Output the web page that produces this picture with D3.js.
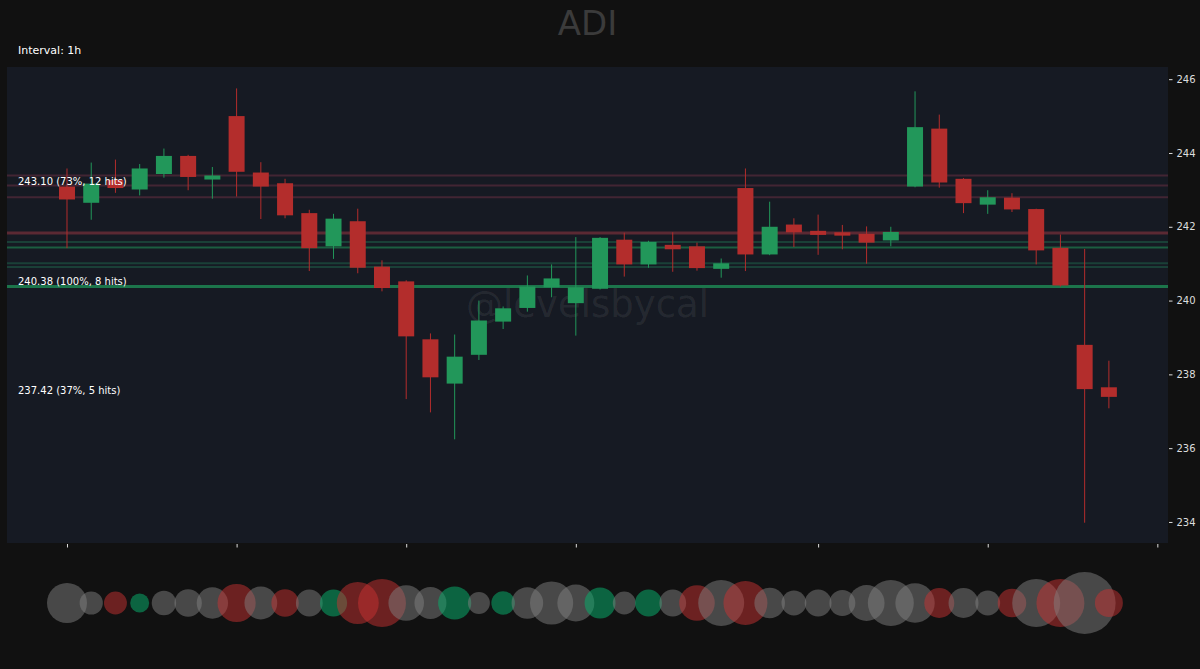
<!DOCTYPE html>
<html>
<head>
<meta charset="utf-8">
<script src="https://cdn.jsdelivr.net/npm/d3@7/dist/d3.min.js"></script>
<style>
  html, body { margin: 0; padding: 0; background: #111111; }
  svg { display: block; }
  text { font-family: "DejaVu Sans", sans-serif; }
</style>
</head>
<body>
<svg id="chart" width="1200" height="669"></svg>
<script>
// ---- data ----
const symbol = "ADI";
const intervalLabel = "Interval: 1h";
const watermark = "@levelsbycal";

const opens  = [243.09,242.65,243.27,243.01,243.43,243.92,243.28,245.00,243.47,243.18,
                242.37,241.47,242.15,240.92,240.52,238.95,237.75,238.53,239.43,239.80,
                240.36,239.93,240.32,241.65,240.98,241.51,241.47,240.86,243.05,241.25,
                242.06,241.89,241.85,241.81,241.63,243.09,244.66,243.30,242.60,242.79,
                242.48,241.43,238.80,237.65];
const highs  = [243.58,243.74,243.82,243.70,244.12,243.95,243.62,245.75,243.75,243.30,
                242.46,242.35,242.49,241.09,240.55,239.11,239.08,240.00,239.84,240.68,
                240.98,241.72,241.72,241.84,241.62,241.85,241.57,241.14,243.58,242.68,
                242.23,242.33,242.05,242.01,242.00,245.67,245.04,243.32,242.99,242.91,
                242.49,241.79,241.40,238.37];
const lows   = [241.42,242.19,242.92,242.85,243.33,242.99,242.76,242.82,242.21,242.23,
                240.80,241.13,240.74,240.25,237.33,236.97,236.24,238.39,239.23,239.70,
                240.09,239.05,240.30,240.65,240.89,240.78,240.81,240.62,240.80,241.23,
                241.45,241.24,241.39,241.00,241.47,243.07,243.06,242.37,242.35,242.40,
                240.98,240.38,233.98,237.08];
const closes = [242.74,243.17,243.05,243.58,243.92,243.35,243.39,243.49,243.09,242.31,
                241.42,242.22,240.89,240.34,239.03,237.92,238.48,239.46,239.79,240.38,
                240.60,240.36,241.70,240.98,241.59,241.39,240.88,241.01,241.25,242.00,
                241.85,241.78,241.76,241.57,241.86,244.70,243.20,242.64,242.80,242.47,
                241.36,240.41,237.60,237.39];

// volume bubbles (arbitrary units) and their colour class
const volumes = [400,135,132,90,149,188,246,365,269,188,
                 180,185,441,576,317,256,276,121,139,250,
                 467,342,240,132,180,180,317,529,484,234,
                 154,180,169,324,529,388,225,225,154,204,
                 576,576,961,196];
const volumeKinds = ["n","n","r","g","n","n","n","r","n","r",
                     "n","g","r","r","n","n","g","n","g","n",
                     "n","n","g","n","g","n","r","n","r","n",
                     "n","n","n","n","n","n","r","n","n","r",
                     "n","r","n","r"];

// horizontal levels
const levelPrices    = [243.39,243.12,242.80,241.83,241.59,241.44,241.01,240.91,240.38];
const levelKinds     = ["res","res","res","res","sup","sup","sup","sup","sup"];
const levelStrengths = [1,1,1,3,1,2,1,1,3];

// level annotations
const annotationPrices = [243.10,240.38,237.42];
const annotationTexts  = ["243.10 (73%, 12 hits)","240.38 (100%, 8 hits)","237.42 (37%, 5 hits)"];

const yTicks = [234,236,238,240,242,244,246];
const xTickIndex = [0,7,14,21,31,38,45];

// ---- drawing ----
const svg = d3.select("#chart");
const W = 1200, H = 669;
const plot = {left: 7, right: 1168, top: 67, bottom: 543};

svg.append("rect").attr("width", W).attr("height", H).attr("fill", "#111111");

const x = d3.scaleLinear().domain([-2.476, 45.44]).range([plot.left, plot.right]);
const y = d3.scaleLinear().domain([233.43, 246.33]).range([plot.bottom, plot.top]);
const r = d3.scaleSqrt().domain([0, 1000]).range([0, 31.6]);

svg.append("rect")
  .attr("x", plot.left).attr("y", plot.top)
  .attr("width", plot.right - plot.left).attr("height", plot.bottom - plot.top)
  .attr("fill", "#161a23");

// title
svg.append("text")
  .attr("x", (plot.left + plot.right) / 2).attr("y", 35)
  .attr("text-anchor", "middle")
  .attr("font-size", 34)
  .attr("fill", "#3b3b3b")
  .text(symbol);

svg.append("text")
  .attr("x", 18).attr("y", 54)
  .attr("font-size", 11)
  .attr("fill", "#ffffff")
  .text(intervalLabel);

// watermark
svg.append("text")
  .attr("x", (plot.left + plot.right) / 2).attr("y", 317)
  .attr("text-anchor", "middle")
  .attr("font-size", 37)
  .attr("fill", "rgba(255,255,255,0.075)")
  .text(watermark);

// levels
const levelStyle = (kind, s) => {
  if (kind === "res") {
    return s >= 3 ? {c: "rgba(150,55,65,0.55)", w: 3} : {c: "rgba(120,50,70,0.45)", w: 2};
  }
  if (s >= 3) return {c: "rgba(30,140,85,0.8)", w: 3};
  if (s === 2) return {c: "rgba(30,130,80,0.65)", w: 2};
  return {c: "rgba(30,110,80,0.45)", w: 2};
};
const levels = levelPrices.map((p, i) => ({p, k: levelKinds[i], s: levelStrengths[i]}));
svg.append("g").selectAll("line").data(levels).join("line")
  .attr("x1", plot.left).attr("x2", plot.right)
  .attr("y1", d => y(d.p)).attr("y2", d => y(d.p))
  .attr("stroke", d => levelStyle(d.k, d.s).c)
  .attr("stroke-width", d => levelStyle(d.k, d.s).w);

// candles
const candles = opens.map((o, i) => ({i, o, h: highs[i], l: lows[i], c: closes[i]}));
const up = "#22975a", down = "#b32d2c";
const bw = (x(1) - x(0)) * 0.66;
const cg = svg.append("g");
cg.selectAll("line").data(candles).join("line")
  .attr("x1", d => x(d.i)).attr("x2", d => x(d.i))
  .attr("y1", d => y(d.h)).attr("y2", d => y(d.l))
  .attr("stroke", d => d.c >= d.o ? up : down)
  .attr("stroke-width", 1);
cg.selectAll("rect").data(candles).join("rect")
  .attr("x", d => x(d.i) - bw / 2)
  .attr("width", bw)
  .attr("y", d => y(Math.max(d.o, d.c)))
  .attr("height", d => Math.max(1, Math.abs(y(d.o) - y(d.c))))
  .attr("fill", d => d.c >= d.o ? up : down);

// annotations
svg.append("g").selectAll("text").data(annotationPrices).join("text")
  .attr("x", 18).attr("y", d => y(d) - 1.5)
  .attr("font-size", 10)
  .attr("fill", "#ffffff")
  .text((d, i) => annotationTexts[i]);

// right y axis
const yAxis = d3.axisRight(y).tickValues(yTicks).tickSize(3.5).tickPadding(4).tickFormat(d3.format("d"));
const ya = svg.append("g").attr("transform", `translate(${plot.right + 1},0)`).call(yAxis);
ya.select(".domain").remove();
ya.selectAll("line").attr("stroke", "#dddddd");
ya.selectAll("text").attr("fill", "#dddddd").attr("font-size", 10).attr("font-family", "DejaVu Sans");

// bottom x ticks (no labels)
const xAxis = d3.axisBottom(x).tickValues(xTickIndex).tickSize(3.5).tickFormat("");
const xa = svg.append("g").attr("transform", `translate(0,${plot.bottom + 1})`).call(xAxis);
xa.select(".domain").remove();
xa.selectAll("line").attr("stroke", "#dddddd");

// volume bubbles
const bubbleFill = {n: "rgba(128,128,128,0.5)", r: "rgba(200,50,50,0.5)", g: "rgba(10,170,105,0.55)"};
svg.append("g").selectAll("circle").data(volumes).join("circle")
  .attr("cx", (d, i) => x(i))
  .attr("cy", 603)
  .attr("r", d => r(d))
  .attr("fill", (d, i) => bubbleFill[volumeKinds[i]]);
</script>
</body>
</html>
